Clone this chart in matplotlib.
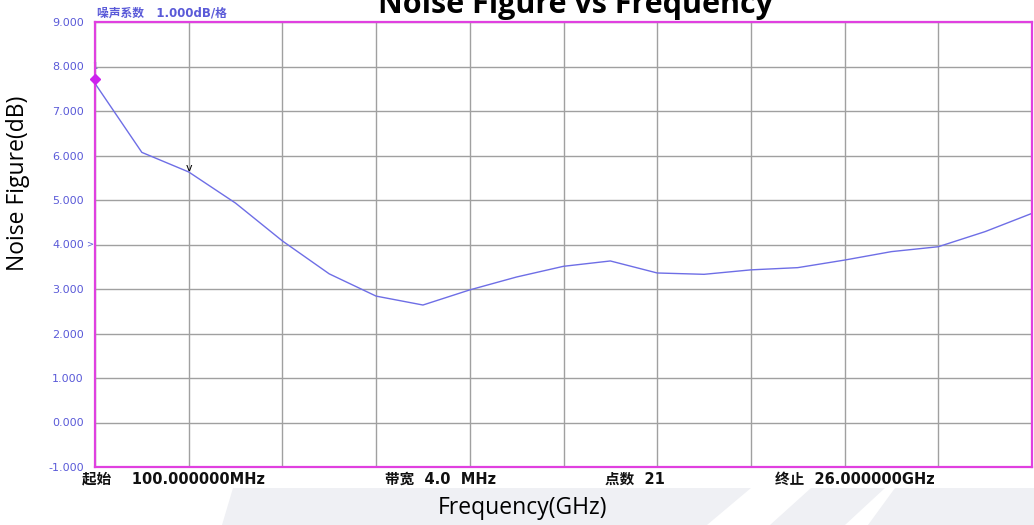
import matplotlib.pyplot as plt
from matplotlib.patches import Polygon
import numpy as np

# ---------------------------------------------------------------------------#
# Data

freq_ghz = np.linspace(0.1, 26.0, 21)  # 21 points from 100 MHz to 26 GHz
noise_db = [7.62, 6.07, 5.63, 4.93, 4.08, 3.34, 2.84, 2.64, 2.98, 3.27, 3.51,
            3.63, 3.36, 3.33, 3.43, 3.48, 3.65, 3.84, 3.95, 4.29, 4.70]
y_ticks = [-1, 0, 1, 2, 3, 4, 5, 6, 7, 8, 9]
marker1 = (0.1, 7.72)
marker2 = (freq_ghz[2], 5.72)

cjk = ['DejaVu Sans', 'Noto Sans CJK SC']
blue = '#5a5ad8'
magenta = '#e040e0'

fig = plt.figure(figsize=(10.34, 5.25), dpi=100)

# light watermark shapes along the bottom
for pts in [[(233, 488), (751, 488), (707, 525), (222, 525)],
            [(811, 488), (885, 488), (845, 525), (770, 525)],
            [(895, 488), (1034, 488), (1034, 525), (868, 525)]]:
    fig.patches.append(Polygon([(x / 1034, 1 - y / 525) for x, y in pts],
                               closed=True, transform=fig.transFigure,
                               facecolor='#eff0f4', edgecolor='none', zorder=0))

ax = fig.add_axes([95 / 1034, 1 - 467 / 525, 937 / 1034, 445 / 525])
ax.plot(freq_ghz, noise_db, color='#6e6ee6', lw=1.0, zorder=3)
ax.plot(*marker1, marker='D', color='#cc22ee', ms=5, zorder=6, clip_on=False)
ax.text(marker1[0], 8.0, '1', color=blue, fontsize=6, ha='center', va='center')
ax.text(marker2[0], marker2[1], 'v', color='black', fontsize=8, ha='center', va='center')

ax.set_xlim(0.1, 26.0)
ax.set_ylim(-1, 9)
ax.set_xticks(np.linspace(0.1, 26.0, 11))
ax.set_xticklabels([])
ax.set_yticks(y_ticks)
ax.set_yticklabels(['%.3f' % v for v in y_ticks], color=blue, fontsize=8)
ax.tick_params(length=0, pad=8)
ax.grid(True, color='#a0a0a0', lw=1.0)
for s in ax.spines.values():
    s.set_color(magenta)
    s.set_linewidth(1.6)
    s.set_zorder(5)

# instrument annotations
fig.text(97 / 1034, 1 - 13 / 525, '噪声系数   1.000dB/格', color=blue, fontsize=8.5,
         fontweight='bold', family=cjk, va='center')
fig.text(86 / 1034, 1 - 244 / 525, '>', color=blue, fontsize=6, va='center')
bottom = [(82, '起始    100.000000MHz'), (385, '带宽  4.0  MHz'),
          (605, '点数  21'), (775, '终止  26.000000GHz')]
for x, s in bottom:
    fig.text(x / 1034, 1 - 479 / 525, s, fontsize=10.5, fontweight='bold',
             family=cjk, va='center', color='#111111')

fig.text(575 / 1034, 1 - 13 / 525, 'Noise Figure vs Frequency', fontsize=22,
         fontweight='bold', family='Open Sans', ha='center', va='baseline')
fig.text(18 / 1034, 1 - 183 / 525, 'Noise Figure(dB)', fontsize=16.5,
         family='Open Sans', rotation=90, ha='center', va='center')
fig.text(522 / 1034, 1 - 508 / 525, 'Frequency(GHz)', fontsize=16.5,
         family='Open Sans', ha='center', va='center')

plt.savefig('out.png', dpi=100)
